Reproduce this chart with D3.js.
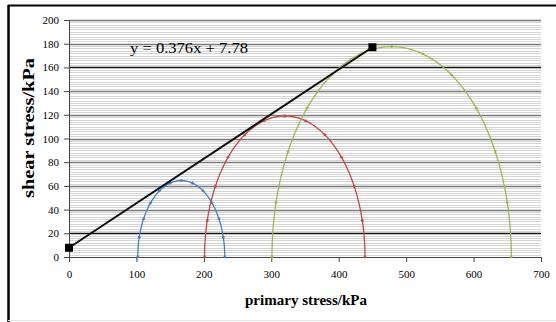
<!DOCTYPE html>
<html>
<head>
<meta charset="utf-8">
<script src="https://cdn.jsdelivr.net/npm/d3@7"></script>
<style>
  body { margin: 0; background: #fff; }
  svg { display: block; }
  text { font-family: "Liberation Serif", "DejaVu Serif", serif; fill: #000; }
</style>
</head>
<body>
<div id="chart"></div>
<script>
// donnees
var circleNames = ["c1", "c2", "c3"];
var sigma3 = [102, 201, 301];          // contrainte mineure (kPa)
var sigma1 = [231, 439, 656];          // contrainte majeure (kPa)
var circleColors = ["#4a7ebb", "#be4b48", "#98b954"];
var markerAngles = [0, 15, 30, 45, 60, 75, 90, 105, 120, 135, 150, 165, 180];

var envelopeX = [0, 450];
var envelopeY = [7.78, 177];
var equation = "y = 0.376x + 7.78";

var xTicks = [0, 100, 200, 300, 400, 500, 600, 700];
var yTicks = [0, 20, 40, 60, 80, 100, 120, 140, 160, 180, 200];
var darkLines = [20, 160];

var width = 556, height = 322;
var plotLeft = 69, plotRight = 541, plotTop = 20, plotBottom = 257;

var svg = d3.select("#chart").append("svg")
  .attr("width", width)
  .attr("height", height);

// cadre
svg.append("line").attr("x1", 8.5).attr("x2", 8.5).attr("y1", 5).attr("y2", 322)
  .attr("stroke", "#000").attr("stroke-width", 2.5);
svg.append("line").attr("x1", 8).attr("x2", 556).attr("y1", 5.5).attr("y2", 5.5)
  .attr("stroke", "#000").attr("stroke-width", 2);
svg.append("line").attr("x1", 8).attr("x2", 556).attr("y1", 320.5).attr("y2", 320.5)
  .attr("stroke", "#e4e4e4").attr("stroke-width", 1);

var x = d3.scaleLinear().domain([0, 700]).range([plotLeft, plotRight]);
var y = d3.scaleLinear().domain([0, 200]).range([plotBottom, plotTop]);

// grille secondaire tous les 2 kPa
var minor = d3.range(0, 201, 2).filter(function(v) { return v % 20 != 0; });
svg.append("g").selectAll("line")
  .data(minor)
  .enter().append("line")
    .attr("x1", plotLeft).attr("x2", plotRight)
    .attr("y1", d => Math.round(y(d)) + 0.5)
    .attr("y2", d => Math.round(y(d)) + 0.5)
    .attr("stroke", "#d4d4d4");

// grille principale
svg.append("g").selectAll("line")
  .data(yTicks.filter(d => d > 0))
  .enter().append("line")
    .attr("x1", plotLeft).attr("x2", plotRight)
    .attr("y1", d => Math.round(y(d)) + 0.5)
    .attr("y2", d => Math.round(y(d)) + 0.5)
    .attr("stroke", d => darkLines.indexOf(d) >= 0 ? "#111" : "#7a7a7a")
    .attr("stroke-width", 1.3);

// axes
var xAxis = d3.axisBottom(x).tickValues(xTicks).tickSize(5).tickPadding(8);
var gx = svg.append("g").attr("transform", "translate(0," + plotBottom + ")").call(xAxis);
gx.select(".domain").attr("stroke", "#444");
gx.selectAll(".tick line").attr("stroke", "#444");
gx.selectAll("text").attr("font-size", 11).attr("font-family", "Liberation Serif").attr("fill", "#222");

var yAxis = d3.axisLeft(y).tickValues(yTicks).tickSize(5).tickPadding(5);
var gy = svg.append("g").attr("transform", "translate(" + plotLeft + ",0)").call(yAxis);
gy.select(".domain").attr("stroke", "#444");
gy.selectAll(".tick line").attr("stroke", "#444");
gy.selectAll("text").attr("font-size", 11).attr("font-family", "Liberation Serif").attr("fill", "#222");

// cercles de Mohr
var line = d3.line().x(d => x(d[0])).y(d => y(d[1]));
circleNames.forEach(function(name, i) {
  var c = (sigma1[i] + sigma3[i]) / 2;
  var r = (sigma1[i] - sigma3[i]) / 2;
  var pts = d3.range(0, 181, 1).map(function(a) {
    var t = a * Math.PI / 180;
    return [c - r * Math.cos(t), r * Math.sin(t)];
  });
  svg.append("path")
    .attr("d", line(pts))
    .attr("fill", "none")
    .attr("stroke", circleColors[i])
    .attr("stroke-width", 1.3);
  svg.append("g").selectAll("circle")
    .data(markerAngles)
    .enter().append("circle")
      .attr("cx", a => x(c - r * Math.cos(a * Math.PI / 180)))
      .attr("cy", a => y(r * Math.sin(a * Math.PI / 180)))
      .attr("r", 1.4)
      .attr("fill", circleColors[i]);
});

// droite enveloppe
svg.append("line")
  .attr("x1", x(envelopeX[0])).attr("y1", y(envelopeY[0]))
  .attr("x2", x(envelopeX[1])).attr("y2", y(envelopeY[1]))
  .attr("stroke", "#111").attr("stroke-width", 2);
envelopeX.forEach(function(v, i) {
  svg.append("rect")
    .attr("x", x(v) - 4).attr("y", y(envelopeY[i]) - 4)
    .attr("width", 8).attr("height", 8)
    .attr("fill", "#000");
});

svg.append("text")
  .attr("x", 130).attr("y", 53)
  .attr("font-size", 14)
  .attr("textLength", 118)
  .attr("lengthAdjust", "spacingAndGlyphs")
  .text(equation);

// titres des axes
svg.append("text")
  .attr("x", 306).attr("y", 305)
  .attr("text-anchor", "middle")
  .attr("font-size", 15)
  .attr("font-weight", "bold")
  .attr("textLength", 122)
  .attr("lengthAdjust", "spacingAndGlyphs")
  .text("primary stress/kPa");

svg.append("text")
  .attr("transform", "translate(34,128) rotate(-90)")
  .attr("text-anchor", "middle")
  .attr("font-size", 16)
  .attr("font-weight", "bold")
  .attr("textLength", 140)
  .attr("lengthAdjust", "spacingAndGlyphs")
  .text("shear stress/kPa");
</script>
</body>
</html>
